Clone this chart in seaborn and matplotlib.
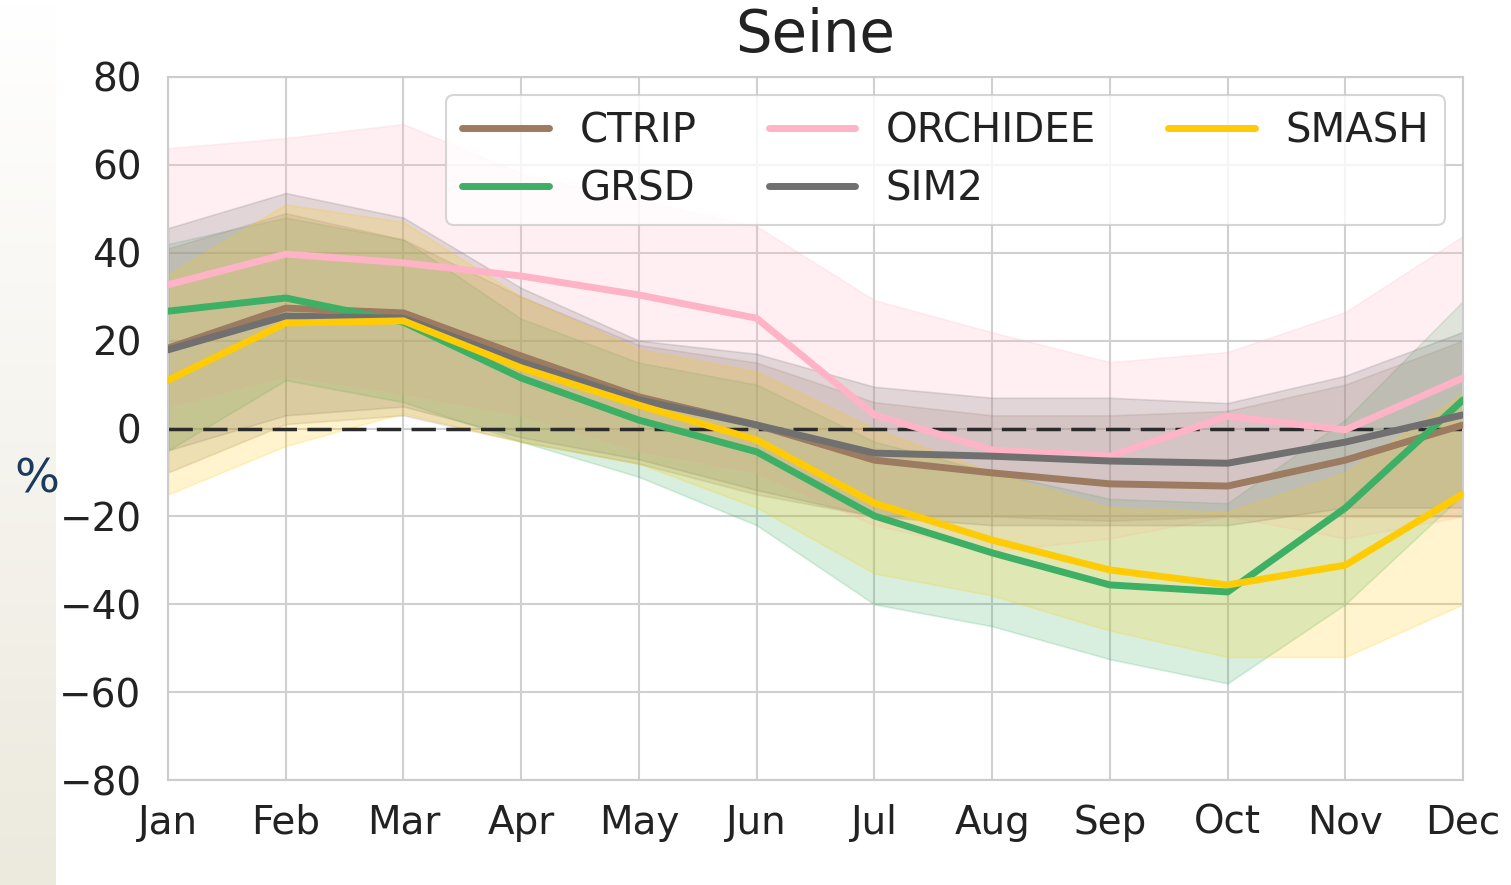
import numpy as np
import pandas as pd
import matplotlib
matplotlib.use("Agg")
import matplotlib.pyplot as plt
import seaborn as sns
from matplotlib.colors import LinearSegmentedColormap

months = ["Jan", "Feb", "Mar", "Apr", "May", "Jun", "Jul", "Aug", "Sep", "Oct", "Nov", "Dec"]
models = ["CTRIP", "GRSD", "ORCHIDEE", "SIM2", "SMASH"]

ctrip = [18.3, 27.4, 26.3, 16.5, 7.2, 0.8, -7.2, -10.1, -12.6, -13.1, -7.2, 0.8]
grsd = [26.7, 29.7, 24.2, 11.5, 1.9, -5.3, -19.9, -28.3, -35.6, -37.2, -18.1, 6.5]
orchidee = [32.7, 39.7, 37.7, 34.7, 30.4, 25.1, 3.1, -4.9, -6.3, 2.8, -0.3, 11.5]
sim2 = [17.9, 25.6, 25.1, 15.1, 6.5, 0.8, -5.6, -6.3, -7.4, -7.9, -3.1, 3.1]
smash = [11.0, 24.0, 24.5, 13.8, 5.3, -2.6, -17.0, -25.4, -32.2, -35.6, -31.1, -14.9]

ctrip_lo = [-10, 1, 3, -3, -8, -15, -20, -20, -21, -20, -20, -20]
ctrip_hi = [41, 49, 43, 30, 19, 15, 6, 3, 3, 4, 10, 20]
grsd_lo = [-5, 11, 6, -3, -11, -22, -40, -45, -52.5, -58, -40, -15]
grsd_hi = [42, 48, 43, 25, 15, 10, -3, -10, -16, -17, 2, 29]
orchidee_lo = [5, 12, 8, 3, -5, -10, -22, -28, -25, -20, -25, -20]
orchidee_hi = [63.8, 66.1, 69.3, 58, 52, 46, 29.2, 21.9, 15.1, 17.4, 26.5, 43.8]
sim2_lo = [-5, 3, 5, -2, -7, -14, -20, -22, -22, -22, -18, -18]
sim2_hi = [45.6, 53.6, 48, 32, 20, 17, 9.5, 7, 7, 5.8, 12, 22]
smash_lo = [-15, -4, 3.5, -3, -8, -18, -33, -38, -46, -52, -52, -40]
smash_hi = [35, 51, 47, 30, 18, 13, 0, -10, -18, -19, -10, 8]

mean_vals = {"CTRIP": ctrip, "GRSD": grsd, "ORCHIDEE": orchidee, "SIM2": sim2, "SMASH": smash}
lo_vals = {"CTRIP": ctrip_lo, "GRSD": grsd_lo, "ORCHIDEE": orchidee_lo, "SIM2": sim2_lo, "SMASH": smash_lo}
hi_vals = {"CTRIP": ctrip_hi, "GRSD": grsd_hi, "ORCHIDEE": orchidee_hi, "SIM2": sim2_hi, "SMASH": smash_hi}
colors = {"CTRIP": "#9C7B60", "GRSD": "#3DB066", "ORCHIDEE": "#FFB3C6", "SIM2": "#707070", "SMASH": "#FFCB05"}

rows = []
for m in models:
    for i, mo in enumerate(months):
        rows.append({"month": i, "model": m, "value": mean_vals[m][i],
                     "lo": lo_vals[m][i], "hi": hi_vals[m][i]})
df = pd.DataFrame(rows)

sns.set_theme(style="whitegrid")
plt.rcParams["font.family"] = ["DejaVu Sans"]

fig = plt.figure(figsize=(15.11, 8.85), dpi=100)
ax = fig.add_axes([168 / 1511, 1 - 780 / 885, (1463 - 168) / 1511, (780 - 77) / 885])

# left gradient strip
strip = fig.add_axes([0, 0, 56 / 1511, 1], zorder=-5)
grad = np.linspace(0, 1, 256).reshape(-1, 1)
cmap = LinearSegmentedColormap.from_list("strip", ["#FFFFFF", "#ECE9DD"])
strip.imshow(grad, aspect="auto", cmap=cmap, extent=[0, 1, 0, 1], origin="upper")
strip.axis("off")

for m in models:
    sub = df[df.model == m]
    ax.fill_between(sub["month"], sub["lo"], sub["hi"], color=colors[m], alpha=0.2, lw=1.2, zorder=1)

ax.axhline(0, color="#2b2b2b", ls=(0, (7, 3)), lw=2.5, zorder=2)

sns.lineplot(data=df, x="month", y="value", hue="model", palette=colors, hue_order=models,
             lw=5, ax=ax, zorder=3, legend=True)

ax.set_xlim(0, 11)
ax.set_ylim(-80, 80)
ax.set_xticks(range(12))
ax.set_xticklabels(months)
ax.set_yticks(np.arange(-80, 81, 20))
ax.tick_params(axis="both", labelsize=28, colors="#222222")
ax.tick_params(axis="x", pad=11)
ax.tick_params(axis="y", pad=13)
ax.set_xlabel("")
ax.set_ylabel("")
ax.set_title("Seine", fontsize=41.5, color="#222222", pad=18)
for s in ax.spines.values():
    s.set_color("#cccccc")
    s.set_linewidth(1.5)
ax.grid(color="#d0d0d0", lw=1.5)

leg = ax.legend(ncol=3, loc="upper right", fontsize=29, frameon=True, handlelength=2.15,
                handletextpad=0.75, columnspacing=1.8, borderaxespad=0.45, labelspacing=0.45,
                borderpad=0.4, framealpha=0.8)
leg.get_frame().set_edgecolor("#cccccc")
leg.get_frame().set_linewidth(1.5)
for line in leg.get_lines():
    line.set_linewidth(5)
for t in leg.get_texts():
    t.set_color("#222222")

fig.text(37 / 1511, 1 - 480 / 885, "%", fontsize=34, color="#1B3B5E", ha="center", va="center")

fig.savefig("out.png", dpi=100)
